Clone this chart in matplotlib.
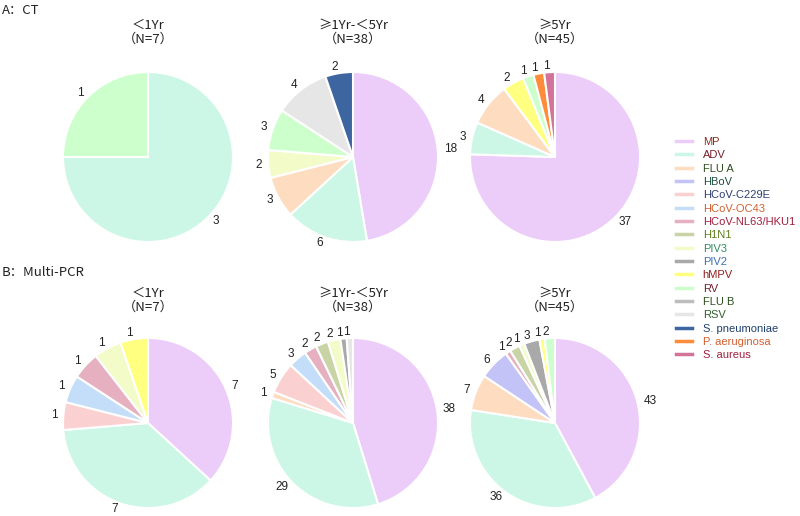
import matplotlib
matplotlib.use("Agg")
import matplotlib.pyplot as plt
from matplotlib.lines import Line2D

categories = ["MP", "ADV", "FLU A", "HBoV", "HCoV-C229E", "HCoV-OC43", "HCoV-NL63/HKU1",
              "H1N1", "PIV3", "PIV2", "hMPV", "RV", "FLU B", "RSV",
              "S. pneumoniae", "P. aeruginosa", "S. aureus"]
wedge_colors = ["#ECCCF8", "#CCF7E6", "#FDDCC0", "#C3C3F8", "#FBD0D0", "#C4DDF8", "#E6B0C0",
                "#C8D4A6", "#F3FCC8", "#A9A9A9", "#FFFF80", "#CCFFCC", "#BDBDBD", "#E6E6E6",
                "#3D65A0", "#FF8C3A", "#D4739A"]
text_colors = ["#8B2D1F", "#7A1F2B", "#2F4F1F", "#1F4F3F", "#2F3F6F", "#D0602F", "#A0203F",
               "#5F7F1F", "#2F8F5F", "#3F6FAF", "#8F1F1F", "#6F1F2F", "#2F4F1F", "#2F5F2F",
               "#1F3F6F", "#D0602F", "#A0203F"]

age_titles = ["＜1Yr\n（N=7）", "≥1Yr-＜5Yr\n（N=38）", "≥5Yr\n（N=45）"]
row_titles = ["A：CT", "B：Multi-PCR"]

#              MP ADV FLUA HBoV C229E OC43 NL63 H1N1 PIV3 PIV2 hMPV RV FLUB RSV Spn Pae Sau
ct_lt1 =      [0,  3,  0,   0,   0,    0,   0,   0,   0,   0,   0,   1, 0,   0,  0,  0,  0]
ct_1to5 =     [18, 6,  3,   0,   0,    0,   0,   0,   2,   0,   0,   3, 0,   4,  2,  0,  0]
ct_ge5 =      [37, 3,  4,   0,   0,    0,   0,   0,   0,   0,   2,   1, 0,   0,  0,  1,  1]
pcr_lt1 =     [7,  7,  0,   0,   1,    1,   1,   0,   1,   0,   1,   0, 0,   0,  0,  0,  0]
pcr_1to5 =    [38, 29, 1,   0,   5,    3,   2,   2,   2,   1,   0,   0, 0,   1,  0,  0,  0]
pcr_ge5 =     [43, 36, 7,   6,   0,    0,   1,   2,   1,   3,   1,   2, 0,   0,  0,  0,  0]

panels = [[ct_lt1, ct_1to5, ct_ge5], [pcr_lt1, pcr_1to5, pcr_ge5]]

W, H = 800, 516
fig = plt.figure(figsize=(W / 100, H / 100), dpi=100)
fig.patch.set_facecolor("white")
FONT = ["Liberation Sans", "Noto Sans CJK SC", "DejaVu Sans"]

centers_x = [148, 353, 555]
centers_y = [157, 423]
R = 85

for r in range(2):
    for c in range(3):
        cx, cy = centers_x[c], centers_y[r]
        ax = fig.add_axes([(cx - R) / W, 1 - (cy + R) / H, 2 * R / W, 2 * R / H])
        vals = panels[r][c]
        v = [x for x in vals if x > 0]
        cols = [wedge_colors[i] for i, x in enumerate(vals) if x > 0]
        wedges, texts = ax.pie(v, colors=cols, startangle=90, counterclock=False,
                               labels=[str(x) for x in v], labeldistance=1.07,
                               wedgeprops=dict(edgecolor="white", linewidth=1.5),
                               textprops=dict(fontsize=8.5, family=FONT, color="#222222"))
        ax.set_xlim(-1, 1)
        ax.set_ylim(-1, 1)
        ax.set_aspect("equal")
        ax.axis("off")
        fig.text(cx / W, 1 - (cy - R - 40 + (2 if r == 1 else 0)) / H, age_titles[c],
                 ha="center", va="center",
                 fontsize=9.5, family=["Noto Sans CJK SC", "DejaVu Sans"], color="#222222",
                 linespacing=1.05)

fig.text(2 / W, 1 - 10 / H, row_titles[0], ha="left", va="center", fontsize=9.5,
         family=["Noto Sans CJK SC", "DejaVu Sans"], color="#222222")
fig.text(2 / W, 1 - 273 / H, row_titles[1], ha="left", va="center", fontsize=9.5,
         family=["Noto Sans CJK SC", "DejaVu Sans"], color="#222222")

handles = [Line2D([0], [0], color=col, lw=2.5) for col in wedge_colors]
leg = fig.legend(handles, categories, loc="upper left",
                 bbox_to_anchor=(676 / W, 1 - 137 / H), frameon=False,
                 prop=dict(family=FONT, size=8), handlelength=1.4, handletextpad=1.0,
                 labelspacing=0.30, borderaxespad=0, borderpad=0)
for t, col in zip(leg.get_texts(), text_colors):
    t.set_color(col)

fig.savefig("out.png", dpi=100, facecolor="white")
